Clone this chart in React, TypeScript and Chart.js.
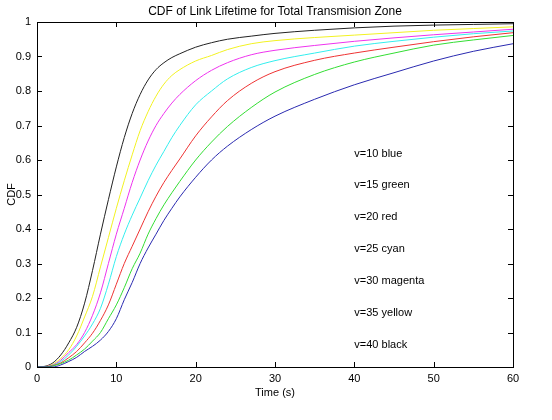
import React, { useEffect, useRef } from "react";
import { Chart, registerables } from "chart.js";

Chart.register(...registerables);

// Time grid (s)
const times = [0, 1, 2, 3, 4, 5, 6, 7, 8, 9, 10, 11, 12, 13, 14, 15, 16, 17, 18, 20, 22, 24, 27, 30, 35, 40, 45, 50, 55, 60];

// CDF values per speed
const v10Blue = [0, 0, 0, 0.006, 0.016, 0.028, 0.045, 0.06, 0.078, 0.103, 0.14, 0.195, 0.245, 0.3, 0.345, 0.385, 0.425, 0.46, 0.493, 0.55, 0.6, 0.64, 0.688, 0.727, 0.776, 0.818, 0.853, 0.887, 0.915, 0.937];
const v15Green = [0, 0, 0.003, 0.01, 0.02, 0.035, 0.052, 0.075, 0.1, 0.14, 0.18, 0.23, 0.285, 0.33, 0.385, 0.43, 0.47, 0.505, 0.538, 0.6, 0.652, 0.697, 0.752, 0.797, 0.848, 0.884, 0.91, 0.933, 0.948, 0.961];
const v20Red = [0, 0, 0.004, 0.012, 0.027, 0.045, 0.07, 0.098, 0.135, 0.18, 0.24, 0.3, 0.35, 0.4, 0.45, 0.495, 0.535, 0.57, 0.603, 0.67, 0.725, 0.772, 0.822, 0.856, 0.889, 0.91, 0.927, 0.943, 0.957, 0.969];
const v25Cyan = [0, 0, 0.005, 0.016, 0.035, 0.06, 0.09, 0.125, 0.17, 0.24, 0.32, 0.385, 0.44, 0.49, 0.54, 0.585, 0.625, 0.665, 0.7, 0.76, 0.8, 0.835, 0.868, 0.888, 0.91, 0.93, 0.944, 0.956, 0.966, 0.974];
const v30Magenta = [0, 0.001, 0.006, 0.02, 0.042, 0.065, 0.1, 0.15, 0.215, 0.3, 0.385, 0.46, 0.535, 0.6, 0.655, 0.7, 0.735, 0.765, 0.79, 0.83, 0.86, 0.882, 0.905, 0.918, 0.932, 0.944, 0.954, 0.963, 0.971, 0.979];
const v35Yellow = [0, 0.001, 0.008, 0.025, 0.05, 0.09, 0.145, 0.205, 0.29, 0.375, 0.46, 0.54, 0.615, 0.685, 0.74, 0.785, 0.82, 0.845, 0.862, 0.887, 0.903, 0.92, 0.937, 0.946, 0.955, 0.962, 0.969, 0.976, 0.981, 0.986];
const v40Black = [0, 0.002, 0.012, 0.035, 0.07, 0.115, 0.185, 0.28, 0.385, 0.485, 0.58, 0.665, 0.735, 0.79, 0.832, 0.862, 0.882, 0.897, 0.908, 0.927, 0.94, 0.95, 0.959, 0.967, 0.976, 0.983, 0.988, 0.991, 0.993, 0.995];

const seriesNames = ["v=10", "v=15", "v=20", "v=25", "v=30", "v=35", "v=40"];
const seriesValues = [v10Blue, v15Green, v20Red, v25Cyan, v30Magenta, v35Yellow, v40Black];
const seriesColors = ["#2a2ab0", "#33dd33", "#ee3333", "#33eeee", "#ee33ee", "#f2f222", "#222222"];

// Text annotations (data units)
const noteTexts = ["v=10 blue", "v=15 green", "v=20 red", "v=25 cyan", "v=30 magenta", "v=35 yellow", "v=40 black"];
const noteTime = 40;
const noteCdf = [0.617, 0.528, 0.435, 0.342, 0.249, 0.157, 0.064];

const titleText = "CDF of Link Lifetime for Total Transmision Zone";
const xTitle = "Time (s)";
const yTitle = "CDF";

const FONT = "'Liberation Sans', Arial, Helvetica, sans-serif";

const framePlugin = {
  id: "matlabFrame",
  afterDatasetsDraw(chart: any) {
    const { ctx, chartArea, scales } = chart;
    const { left, right, top, bottom } = chartArea;
    const x = scales.x;
    const y = scales.y;
    ctx.save();
    ctx.strokeStyle = "#000";
    ctx.lineWidth = 1;
    ctx.strokeRect(left + 0.5, top + 0.5, right - left, bottom - top);
    ctx.beginPath();
    x.ticks.forEach((t: any) => {
      const px = Math.round(x.getPixelForValue(t.value)) + 0.5;
      ctx.moveTo(px, bottom);
      ctx.lineTo(px, bottom - 5);
      ctx.moveTo(px, top);
      ctx.lineTo(px, top + 5);
    });
    y.ticks.forEach((t: any) => {
      const py = Math.round(y.getPixelForValue(t.value)) + 0.5;
      ctx.moveTo(left, py);
      ctx.lineTo(left + 5, py);
      ctx.moveTo(right, py);
      ctx.lineTo(right - 5, py);
    });
    ctx.stroke();
    ctx.fillStyle = "#000";
    ctx.font = `11px ${FONT}`;
    ctx.textAlign = "left";
    ctx.textBaseline = "middle";
    noteTexts.forEach((txt, i) => {
      ctx.fillText(txt, x.getPixelForValue(noteTime), y.getPixelForValue(noteCdf[i]));
    });
    ctx.restore();
  },
};

export default function App() {
  const canvasRef = useRef<HTMLCanvasElement | null>(null);

  useEffect(() => {
    if (!canvasRef.current) return;
    Chart.defaults.font.family = FONT;
    Chart.defaults.color = "#000";
    const chart = new Chart(canvasRef.current, {
      type: "line",
      data: {
        datasets: seriesValues.map((vals, i) => ({
          label: seriesNames[i],
          data: vals.map((v, j) => ({ x: times[j], y: v })),
          borderColor: seriesColors[i],
          backgroundColor: seriesColors[i],
          borderWidth: 1,
          pointRadius: 0,
          cubicInterpolationMode: "monotone" as const,
          fill: false,
        })),
      },
      options: {
        responsive: false,
        animation: false,
        events: [],
        layout: { padding: { left: 0, right: 39, top: 0, bottom: 0 } },
        plugins: {
          legend: { display: false },
          tooltip: { enabled: false },
          title: {
            display: true,
            text: titleText,
            fullSize: false,
            font: { size: 12, weight: "normal" as const },
            padding: { top: 4, bottom: 3.6 },
            color: "#000",
          },
        },
        scales: {
          x: {
            type: "linear",
            min: 0,
            max: 60,
            grid: { display: false, drawTicks: false },
            border: { display: false },
            ticks: { stepSize: 10, padding: 5, font: { size: 11 }, color: "#000", maxRotation: 0 },
            title: { display: true, text: xTitle, font: { size: 11 }, color: "#000", padding: { top: 0, bottom: 20 } },
            afterFit: (s: any) => { s.height = 53; },
          },
          y: {
            type: "linear",
            min: 0,
            max: 1,
            grid: { display: false, drawTicks: false },
            border: { display: false },
            ticks: {
              stepSize: 0.1,
              padding: 6,
              font: { size: 11 },
              color: "#000",
              callback: (v: any) => String(Number(Number(v).toFixed(1))),
            },
            title: { display: true, text: yTitle, font: { size: 11 }, color: "#000", padding: { top: 5, bottom: 0 } },
            afterFit: (s: any) => { s.width = 37; },
          },
        },
      },
      plugins: [framePlugin],
    });
    return () => chart.destroy();
  }, []);

  return (
    <div style={{ position: "fixed", left: 0, top: 0, width: 552, height: 420, background: "#fff" }}>
      <canvas ref={canvasRef} width={552} height={420} style={{ display: "block" }} />
    </div>
  );
}
